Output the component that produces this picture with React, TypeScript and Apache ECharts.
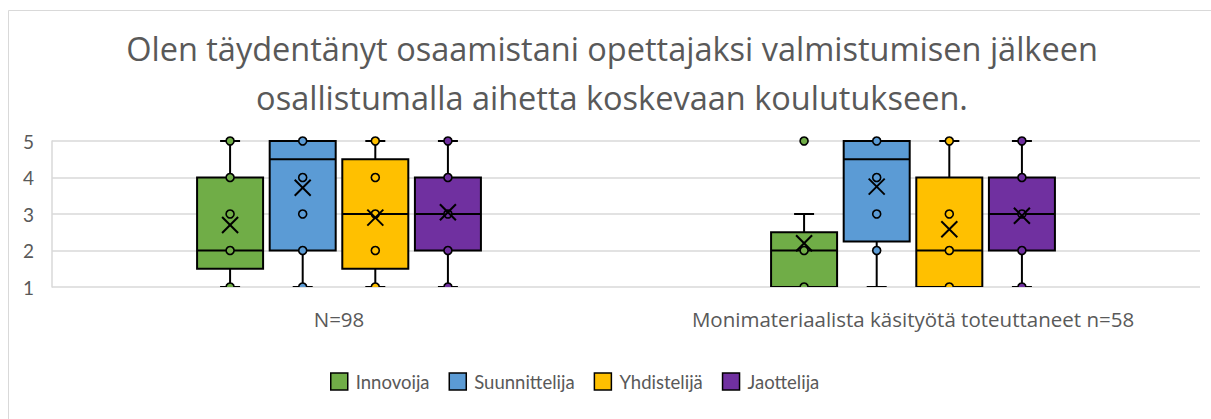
import React, { useEffect, useRef } from 'react';
import * as echarts from 'echarts';

const titleLines = [
  'Olen täydentänyt osaamistani opettajaksi valmistumisen jälkeen',
  'osallistumalla aihetta koskevaan koulutukseen.',
];
const categories = ['N=98', 'Monimateriaalista käsityötä toteuttaneet n=58'];
const seriesNames = ['Innovoija', 'Suunnittelija', 'Yhdistelijä', 'Jaottelija'];
const colors = ['#70AD47', '#5B9BD5', '#FFC000', '#7030A0'];
const yTicks = [1, 2, 3, 4, 5];

// per category: [min, q1, median, q3, max, mean]
const innovoijaStats = [
  [1, 1.5, 2, 4, 5, 2.7],
  [1, 1, 2, 2.5, 3, 2.2],
];
const suunnittelijaStats = [
  [1, 2, 4.5, 5, 5, 3.72],
  [1, 2.25, 4.5, 5, 5, 3.75],
];
const yhdistelijaStats = [
  [1, 1.5, 3, 4.5, 5, 2.9],
  [1, 1, 2, 4, 5, 2.58],
];
const jaottelijaStats = [
  [1, 2, 3, 4, 5, 3.05],
  [1, 2, 3, 4, 5, 2.95],
];

// shown data points (inner points and outliers) per category
const innovoijaPoints = [[1, 2, 3, 4, 5], [1, 2, 5]];
const suunnittelijaPoints = [[1, 2, 3, 4, 5], [2, 3, 4, 5]];
const yhdistelijaPoints = [[1, 2, 3, 4, 5], [1, 2, 3, 5]];
const jaottelijaPoints = [[1, 2, 3, 4, 5], [1, 2, 3, 4, 5]];

const allStats = [innovoijaStats, suunnittelijaStats, yhdistelijaStats, jaottelijaStats];
const allPoints = [innovoijaPoints, suunnittelijaPoints, yhdistelijaPoints, jaottelijaPoints];

const FONT = 'Lato, "Open Sans", sans-serif';
const WIDE_FONT = '"Open Sans", Lato, sans-serif';
const TEXT_COLOR = '#595959';

function makeRenderItem(si: number) {
  return (params: any, api: any) => {
    const cat = api.value(0);
    const min = api.value(1);
    const q1 = api.value(2);
    const med = api.value(3);
    const q3 = api.value(4);
    const max = api.value(5);
    const mean = api.value(6);
    const band = api.size([1, 0])[0];
    const off = (si - 1.5) * band * 0.1265;
    const bw = band * 0.115;
    const pt = (v: number) => {
      const c = api.coord([cat, v]);
      return [c[0] + off, c[1]];
    };
    const cx = pt(med)[0];
    const yq1 = pt(q1)[1];
    const yq3 = pt(q3)[1];
    const ymed = pt(med)[1];
    const ymin = pt(min)[1];
    const ymax = pt(max)[1];
    const capW = 20;
    const lineStyle = { stroke: '#000', lineWidth: 2 };
    const children: any[] = [];
    if (max > q3) {
      children.push({ type: 'line', shape: { x1: cx, y1: yq3, x2: cx, y2: ymax }, style: lineStyle });
      children.push({ type: 'line', shape: { x1: cx - capW / 2, y1: ymax, x2: cx + capW / 2, y2: ymax }, style: lineStyle });
    }
    if (min < q1) {
      children.push({ type: 'line', shape: { x1: cx, y1: yq1, x2: cx, y2: ymin }, style: lineStyle });
      children.push({ type: 'line', shape: { x1: cx - capW / 2, y1: ymin, x2: cx + capW / 2, y2: ymin }, style: lineStyle });
    }
    children.push({
      type: 'rect',
      shape: { x: cx - bw / 2, y: yq3, width: bw, height: yq1 - yq3 },
      style: { fill: colors[si], stroke: '#000', lineWidth: 2 },
    });
    children.push({ type: 'line', shape: { x1: cx - bw / 2, y1: ymed, x2: cx + bw / 2, y2: ymed }, style: lineStyle });
    const pts = allPoints[si][params.dataIndex] || [];
    pts.forEach((v) => {
      const p = pt(v);
      children.push({
        type: 'circle',
        shape: { cx: p[0], cy: p[1], r: 4 },
        style: { fill: colors[si], stroke: '#000', lineWidth: 1.6 },
      });
    });
    const pm = pt(mean);
    const h = 8;
    children.push({ type: 'line', shape: { x1: pm[0] - h, y1: pm[1] - h, x2: pm[0] + h, y2: pm[1] + h }, style: lineStyle });
    children.push({ type: 'line', shape: { x1: pm[0] - h, y1: pm[1] + h, x2: pm[0] + h, y2: pm[1] - h }, style: lineStyle });
    const cs = params.coordSys;
    return {
      type: 'group',
      clipPath: {
        type: 'rect',
        shape: { x: cs.x - 5, y: cs.y - 15, width: cs.width + 10, height: cs.height + 15 },
      },
      children,
    };
  };
}

export default function App() {
  const ref = useRef<HTMLDivElement>(null);
  useEffect(() => {
    if (!ref.current) return;
    const chart = echarts.init(ref.current, undefined, { renderer: 'svg' });
    const series = seriesNames.map((name, si) => ({
      name,
      type: 'custom',
      itemStyle: { color: colors[si] },
      renderItem: makeRenderItem(si),
      encode: { x: 0, y: [1, 2, 3, 4, 5] },
      data: allStats[si].map((s, ci) => [ci, ...s]),
    }));
    chart.setOption({
      animation: false,
      backgroundColor: '#ffffff',
      grid: { left: 52, top: 141, width: 1148, height: 146 },
      graphic: [
        {
          type: 'rect',
          shape: { x: 8.5, y: 10.5, width: 1300, height: 500 },
          style: { fill: 'none', stroke: '#d9d9d9', lineWidth: 1 },
          silent: true,
        },
        {
          type: 'text',
          x: 612,
          y: 24,
          style: {
            text: titleLines.join('\n'),
            textAlign: 'center',
            fontFamily: WIDE_FONT,
            fontSize: 32.5,
            lineHeight: 49,
            fill: TEXT_COLOR,
          },
        },
      ],
      legend: {
        data: seriesNames,
        left: 325,
        top: 367,
        icon: 'rect',
        itemWidth: 17,
        itemHeight: 17,
        itemGap: 19,
        itemStyle: { borderColor: '#000', borderWidth: 1.5 },
        textStyle: { fontFamily: FONT, fontSize: 18.5, color: TEXT_COLOR, padding: [0, 0, 0, 3] },
      },
      xAxis: {
        type: 'category',
        data: categories,
        axisLine: { show: false },
        axisTick: { show: false },
        splitLine: { show: false },
        axisLabel: { interval: 0, fontFamily: WIDE_FONT, fontSize: 20.5, color: TEXT_COLOR, margin: 21 },
      },
      yAxis: {
        type: 'value',
        min: 1,
        max: 5,
        interval: 1,
        axisLine: { show: true, lineStyle: { color: '#d9d9d9', width: 1.5 } },
        axisTick: { show: false },
        splitLine: { lineStyle: { color: '#d9d9d9', width: 1.5 } },
        axisLabel: {
          fontFamily: FONT,
          fontSize: 19,
          color: TEXT_COLOR,
          margin: 18,
          formatter: (v: number) => (yTicks.includes(v) ? String(v) : ''),
        },
      },
      series,
    });
    return () => chart.dispose();
  }, []);
  return (
    <div
      ref={ref}
      style={{ position: 'fixed', left: 0, top: 0, width: 1211, height: 419, background: '#fff' }}
    />
  );
}
